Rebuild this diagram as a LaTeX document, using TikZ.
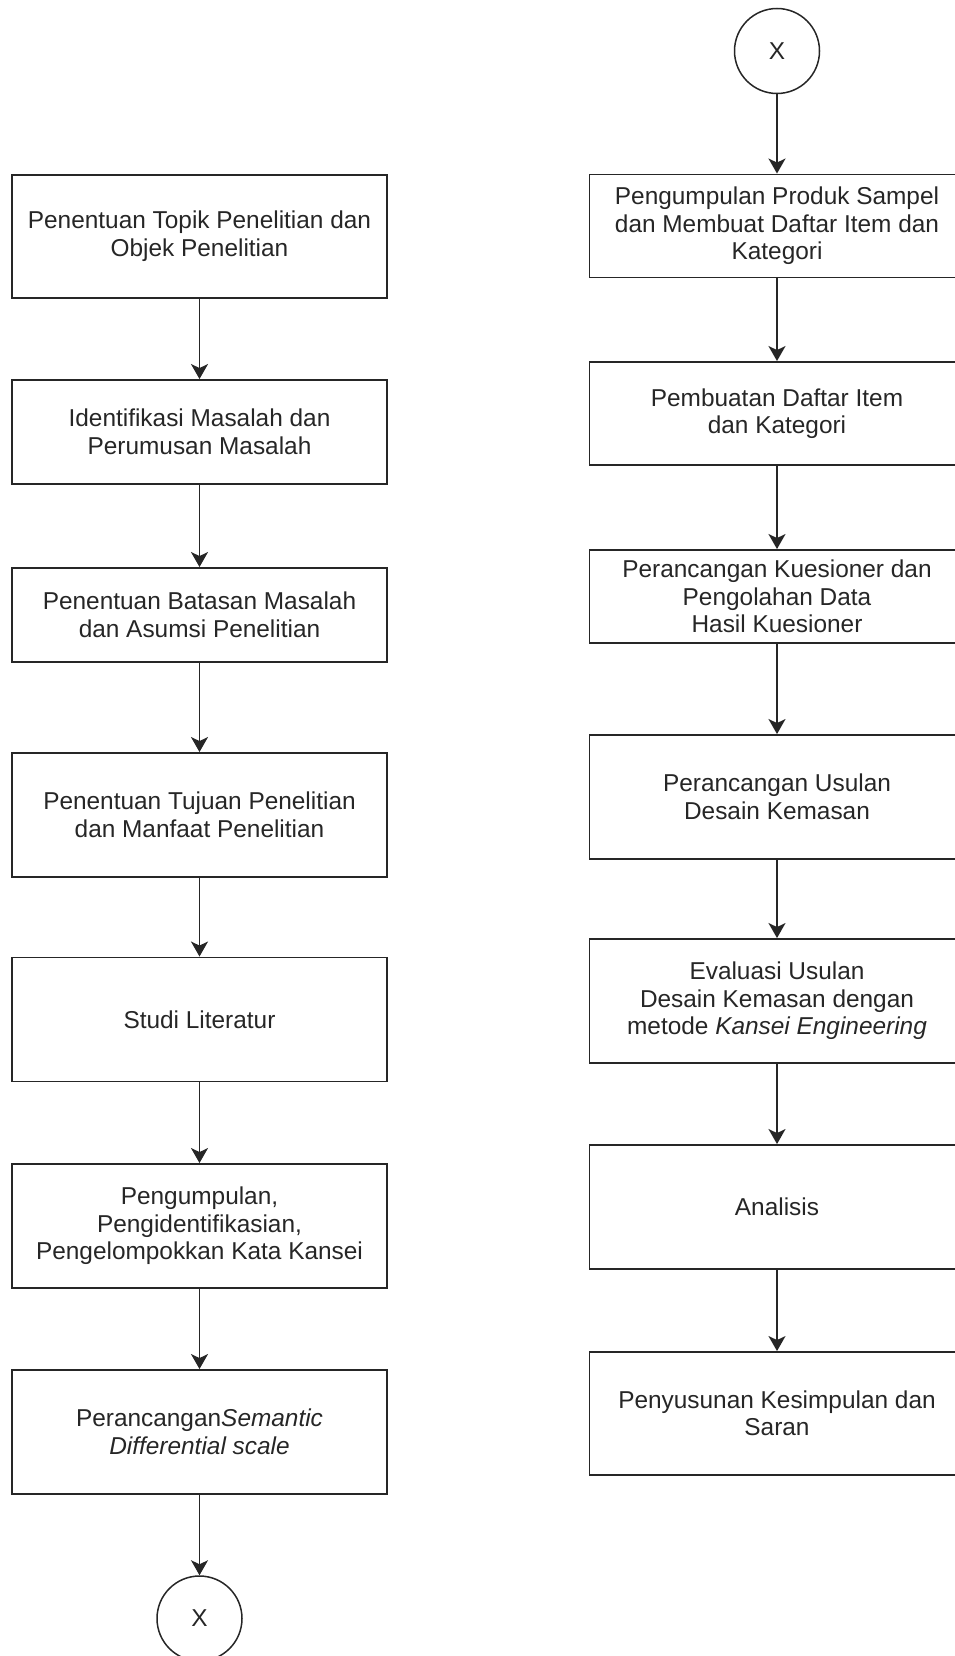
\documentclass[tikz,border=0pt]{standalone}
\usepackage{fontspec}
\setmainfont{Liberation Sans}
\usetikzlibrary{arrows.meta}

\begin{document}
\begin{tikzpicture}[x=1pt,y=-1pt,font=\fontsize{24.4}{27.5}\selectfont,
    kotak/.style={draw=black!85,line width=1.9pt,align=center,text=black!85,
                  minimum width=375,inner sep=0pt},
    konektor/.style={draw=black!85,line width=1.5pt,circle,minimum size=85,
                     inner sep=0pt,text=black!85},
    panah/.style={draw=black!85,line width=1.7pt,
                  -{Stealth[length=15pt,width=17pt,inset=4pt]}}]
    \pgfmathsetmacro{\xa}{199.5} % kolom kiri
    \pgfmathsetmacro{\xb}{777} % kolom kanan
    \useasboundingbox (0,0) rectangle (954,1656);

    % kolom kiri
    \node[kotak,minimum height=123] (topik) at (\xa,236.3)
         {Penentuan Topik Penelitian dan\\Objek Penelitian};
    \node[kotak,minimum height=104] (masalah) at (\xa,432)
         {Identifikasi Masalah dan\\Perumusan Masalah};
    \node[kotak,minimum height=94] (batasan) at (\xa,615)
         {Penentuan Batasan Masalah\\dan Asumsi Penelitian};
    \node[kotak,minimum height=124] (tujuan) at (\xa,815)
         {Penentuan Tujuan Penelitian\\dan Manfaat Penelitian};
    \node[kotak,minimum height=124] (studi) at (\xa,1019.5) {Studi Literatur};
    \node[kotak,minimum height=124] (kansei) at (\xa,1226)
         {Pengumpulan,\\Pengidentifikasian,\\Pengelompokkan Kata Kansei};
    \node[kotak,minimum height=124] (semantic) at (\xa,1432)
         {Perancangan\textit{Semantic}\\\textit{Differential scale}};
    \node[konektor] (xbawah) at (\xa,1618.5) {X};

    % kolom kanan
    \node[konektor] (xatas) at (\xb,51) {X};
    \node[kotak,minimum height=103] (sampel) at (\xb,226)
         {Pengumpulan Produk Sampel\\dan Membuat Daftar Item dan\\Kategori};
    \node[kotak,minimum height=103] (daftar) at (\xb,413.5)
         {Pembuatan Daftar Item\\dan Kategori};
    \node[kotak,minimum height=93] (kuesioner) at (\xb,596.5)
         {Perancangan Kuesioner dan\\Pengolahan Data\\Hasil Kuesioner};
    \node[kotak,minimum height=124] (usulan) at (\xb,797)
         {Perancangan Usulan\\Desain Kemasan};
    \node[kotak,minimum height=124] (evaluasi) at (\xb,1001)
         {Evaluasi Usulan\\Desain Kemasan dengan\\metode \textit{Kansei Engineering}};
    \node[kotak,minimum height=124] (analisis) at (\xb,1207) {Analisis};
    \node[kotak,minimum height=123] (saran) at (\xb,1413.5)
         {Penyusunan Kesimpulan dan\\Saran};

    % panah
    \draw[panah] (topik) -- (masalah);
    \draw[panah] (masalah) -- (batasan);
    \draw[panah] (batasan) -- (tujuan);
    \draw[panah] (tujuan) -- (studi);
    \draw[panah] (studi) -- (kansei);
    \draw[panah] (kansei) -- (semantic);
    \draw[panah] (semantic) -- (xbawah);
    \draw[panah] (xatas) -- (sampel);
    \draw[panah] (sampel) -- (daftar);
    \draw[panah] (daftar) -- (kuesioner);
    \draw[panah] (kuesioner) -- (usulan);
    \draw[panah] (usulan) -- (evaluasi);
    \draw[panah] (evaluasi) -- (analisis);
    \draw[panah] (analisis) -- (saran);
\end{tikzpicture}
\end{document}
